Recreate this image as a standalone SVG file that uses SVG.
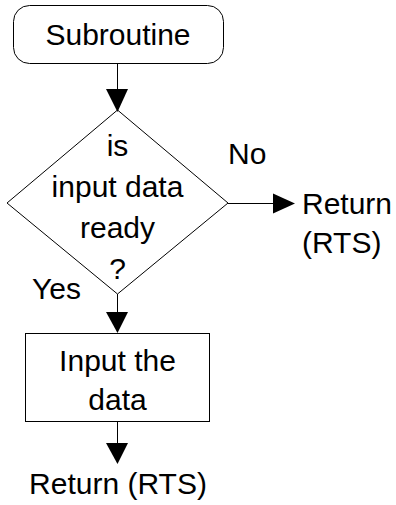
<svg xmlns="http://www.w3.org/2000/svg" width="396" height="505" viewBox="0 0 396 505">
<defs>
<style>
text{font-family:"Liberation Sans",Arial,sans-serif;font-size:30px;fill:#000}
.c{text-anchor:middle}
.s{fill:#fff;stroke:#000;stroke-width:1}
.l{stroke:#000;stroke-width:1;fill:none}
.a{fill:#000;stroke:none}
</style>
</defs>
<rect width="396" height="505" fill="#fff"/>
<g id="start">
<rect class="s" x="13.5" y="5.5" width="210" height="58" rx="16" ry="16"/>
<text class="c" x="118" y="45">Subroutine</text>
</g>
<g id="decision">
<polygon class="s" points="117.5,110 228,203 117.5,294 7,203"/>
<text class="c" x="117.5" y="156">is</text>
<text class="c" x="117.5" y="197">input data</text>
<text class="c" x="117.5" y="238">ready</text>
<text class="c" x="117.5" y="279">?</text>
</g>
<g id="process">
<rect class="s" x="25.5" y="333.5" width="184" height="88"/>
<text class="c" x="117.5" y="371">Input the</text>
<text class="c" x="117.5" y="410">data</text>
</g>
<g id="return1">
<text x="302" y="214">Return</text>
<text x="302" y="253">(RTS)</text>
</g>
<g id="return2">
<text class="c" x="118" y="494">Return (RTS)</text>
</g>
<g id="labels">
<text x="228" y="164">No</text>
<text x="32" y="299">Yes</text>
</g>
<g id="connectors">
<line class="l" x1="117.5" y1="63.5" x2="117.5" y2="92"/>
<polygon class="a" points="106,89 128,89 117.5,112"/>
<line class="l" x1="228" y1="203.5" x2="276" y2="203.5"/>
<polygon class="a" points="273,193.5 273,213.5 295,203.5"/>
<line class="l" x1="117.5" y1="294" x2="117.5" y2="314"/>
<polygon class="a" points="106,312 128,312 117.5,333"/>
<line class="l" x1="117.5" y1="421.5" x2="117.5" y2="445"/>
<polygon class="a" points="106,443 128,443 117.5,464"/>
</g>
</svg>
